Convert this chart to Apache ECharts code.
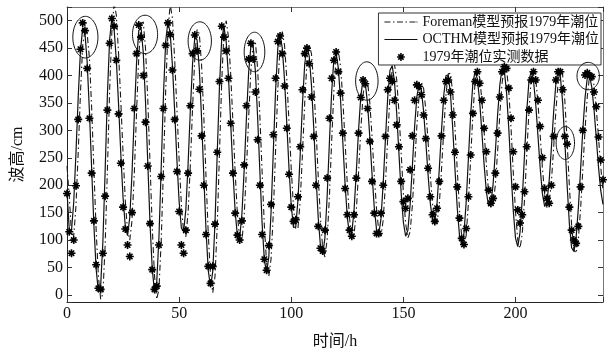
<!DOCTYPE html>
<html><head><meta charset="utf-8">
<script src="https://cdn.jsdelivr.net/npm/echarts@6/dist/echarts.min.js"></script>
<style>html,body{margin:0;padding:0;background:#fff}#c{width:609px;height:358px}</style>
</head><body><div id="c"></div>
<script>
// hourly values, index = hour (0..239)
const seriesNames = ['Foreman模型预报1979年潮位', 'OCTHM模型预报1979年潮位', '1979年潮位实测数据'];
const foreman = [
235,180,112,108,162,260,368,455,482,476,
432,340,228,118,34,-8,2,90,225,372,
480,532,510,440,352,258,172,116,100,136,
220,332,434,494,498,450,358,242,124,36,
-8,10,98,230,372,480,530,505,430,340,
246,164,114,106,150,238,342,434,484,476,
420,326,214,110,34,4,34,128,260,390,
482,500,470,402,314,222,146,100,98,144,
227,324,410,460,462,412,326,224,126,58,
34,66,150,263,375,456,480,455,395,314,
229,160,120,122,172,257,351,425,456,440,
386,307,218,140,86,69,101,178,279,372,
434,445,416,356,279,201,139,106,110,153,
223,301,364,396,390,351,290,220,158,117,
107,137,203,286,362,412,421,393,334,259,
185,130,104,115,163,235,308,363,388,377,
337,280,218,165,133,131,165,229,301,366,
403,404,368,305,229,157,106,88,109,168,
250,331,390,411,396,355,297,237,187,160,
164,201,261,330,386,416,412,371,304,223,
151,100,85,111,173,256,337,394,411,394,
350,291,231,183,159,167,207,269,336,389,
412,401,353,280,199,128,83,76,101,156,
228,302,362,399,403,382,340,287,233,189
];
const octhm = [
188,120,117,169,259,361,445,487,478,424,
335,230,126,47,6,16,97,225,363,465,
505,485,428,347,257,177,125,108,142,223,
326,422,482,488,442,353,243,132,48,6,
22,105,231,363,462,498,478,419,336,247,
170,122,115,156,239,337,423,470,465,412,
323,217,117,44,14,43,133,259,382,468,
489,461,398,313,224,151,107,104,148,228,
322,406,454,454,408,324,225,130,64,40,
70,152,263,372,450,474,450,392,313,230,
162,123,124,174,257,349,421,452,436,383,
306,219,142,90,73,104,180,278,369,430,
441,413,354,278,202,141,109,113,155,224,
300,362,393,387,349,289,221,160,120,110,
139,204,285,360,409,418,390,332,259,186,
132,107,118,165,235,307,361,385,374,335,
279,219,167,136,134,167,229,300,364,400,
401,366,304,229,159,109,91,112,170,250,
329,387,408,393,353,296,237,188,162,166,
202,261,328,383,413,409,369,303,224,153,
103,88,114,175,256,335,391,408,391,348,
290,231,184,161,169,208,269,334,386,409,
398,351,279,200,130,86,79,104,158,228,
301,360,396,400,379,338,286,233,190,165
];
const observed = [
185,115,76,100,199,320,448,496,482,413,
322,222,135,55,12,10,76,180,337,459,
504,490,428,330,240,160,120,91,70,150,
340,440,492,470,400,315,235,130,46,10,
16,91,216,340,455,496,475,410,320,225,
152,91,76,118,222,345,440,474,445,375,
290,200,110,52,21,52,129,260,389,490,
470,445,395,313,222,149,109,100,135,237,
345,430,459,430,370,283,200,110,65,45,
90,165,292,395,462,472,440,381,304,220,
160,134,137,179,270,374,440,450,422,361,
289,200,125,85,80,118,213,322,395,428,
443,407,368,295,194,146,118,107,146,213,
295,360,392,385,340,280,207,149,112,112,
149,200,289,374,395,389,355,310,270,207,
170,158,176,228,290,355,383,380,365,328,
285,231,179,146,134,158,207,290,355,389,
392,370,328,260,197,140,103,92,121,179,
255,331,389,407,386,355,304,261,191,167,
176,222,295,361,407,416,413,377,322,261,
197,155,131,146,188,270,337,392,407,392,
355,307,250,194,176,167,200,289,392,407,
407,374,289,275,160,118,100,94,125,197,
300,401,405,400,398,370,343,288,246,210
];
const xTicks = [0, 50, 100, 150, 200];
const yTicks = [0, 50, 100, 150, 200, 250, 300, 350, 400, 450, 500];
// highlighted regions: [centre hour, centre value, half-width (h), half-height (cm)]
const ellipses = [
[8.2, 470, 5.6, 38],
[34.8, 475, 5.6, 35],
[59.2, 463, 5.2, 35],
[83.6, 443, 4.6, 36],
[133.7, 390, 5.0, 35],
[222.2, 277, 4.1, 30],
[232.4, 399, 5.0, 25]
];

const serif = "'Liberation Serif','Times New Roman','Noto Sans CJK SC',serif";
const starShape = 'M0 4H10V6H0Z M4 0H6V10H4Z M0.9 2.3L2.3 0.9L9.1 7.7L7.7 9.1Z M7.7 0.9L9.1 2.3L2.3 9.1L0.9 7.7Z';
const star = 'path://' + starShape;
const starLegend = 'path://M-4 -4L-3.9 -4L-4 -3.9Z M14 14L13.9 14L14 13.9Z ' + starShape;
const dashDotIcon = 'path://M0 0H6V1.1H0Z M8.5 0H10V1.1H8.5Z M12.5 0H18.5V1.1H12.5Z M21 0H22.5V1.1H21Z M25 0H31V1.1H25Z M32 0H33V1.1H32Z';
const solidIcon = 'path://M0 0H33V1.1H0Z';

const toPairs = arr => arr.map((v, i) => [i, v]);
const xMin = 0, xMax = 239, yMin = -13, yMax = 525;

function axisX(pos, main) {
  return {
    type: 'value', min: xMin, max: xMax, splitNumber: 5, position: pos,
    axisLine: {onZero: false, lineStyle: {color: main ? '#222' : '#777', width: 1}},
    axisTick: {inside: true, length: 5, lineStyle: {color: '#333'}},
    axisLabel: main ? {fontFamily: serif, fontSize: 16, color: '#111', margin: 4,
      formatter: v => xTicks.includes(v) ? String(v) : ''} : {show: false},
    splitLine: {show: false},
    name: main ? '时间/h' : '', nameLocation: 'middle', nameGap: 32,
    nameTextStyle: {fontFamily: serif, fontSize: 16, color: '#111'}
  };
}
function axisY(pos, main) {
  return {
    type: 'value', min: yMin, max: yMax, splitNumber: 10, position: pos,
    axisLine: {onZero: false, lineStyle: {color: main ? '#222' : '#777', width: 1}},
    axisTick: {inside: true, length: 5, lineStyle: {color: '#333'}},
    axisLabel: main ? {fontFamily: serif, fontSize: 16, color: '#111', margin: 4,
      formatter: v => yTicks.includes(v) ? String(v) : ''} : {show: false},
    splitLine: {show: false},
    name: main ? '波高/cm' : '', nameLocation: 'middle', nameGap: 41, nameRotate: 90,
    nameTextStyle: {fontFamily: serif, fontSize: 16, color: '#111'}
  };
}

const chart = echarts.init(document.getElementById('c'), null, {renderer: 'canvas'});
chart.setOption({
  animation: false,
  backgroundColor: '#fff',
  grid: {left: 67, right: 6, top: 7, bottom: 56},
  xAxis: [axisX('bottom', true), axisX('top', false)],
  yAxis: [axisY('left', true), axisY('right', false)],
  legend: {
    orient: 'vertical', right: 8, top: 13, selectedMode: false,
    backgroundColor: '#fff', borderColor: '#333', borderWidth: 1, borderRadius: 0,
    padding: [2, 2, 1, 6], itemWidth: 33, itemHeight: 14, itemGap: 3.5,
    symbolKeepAspect: true,
    textStyle: {fontFamily: serif, fontSize: 14, color: '#111'},
    data: [{name: seriesNames[0], icon: dashDotIcon}, {name: seriesNames[1], icon: solidIcon},
           {name: seriesNames[2], icon: starLegend}]
  },
  series: [
    {name: seriesNames[0], type: 'line', data: toPairs(foreman), symbol: 'none', z: 3,
      lineStyle: {color: '#1a1a1a', width: 1.1, type: [6, 3, 1.5, 3]}, itemStyle: {color: '#1a1a1a'}},
    {name: seriesNames[1], type: 'line', data: toPairs(octhm), symbol: 'none', z: 3,
      lineStyle: {color: '#111', width: 1.2}, itemStyle: {color: '#111'}},
    {name: seriesNames[2], type: 'scatter', data: toPairs(observed), symbol: star, symbolSize: 8, z: 4,
      itemStyle: {color: '#000', opacity: 1}},
    {type: 'custom', data: ellipses, z: 5, clip: true, silent: true,
      renderItem: function (params, api) {
        const c = api.coord([api.value(0), api.value(1)]);
        const s = api.size([api.value(2), api.value(3)]);
        const pts = [];
        for (let k = 0; k <= 64; k++) {
          const a = k / 64 * Math.PI * 2;
          pts.push([c[0] + s[0] * Math.cos(a), c[1] + s[1] * Math.sin(a)]);
        }
        return {type: 'polyline', shape: {points: pts}, style: {fill: null, stroke: '#111', lineWidth: 1}};
      }}
  ]
});
</script></body></html>
